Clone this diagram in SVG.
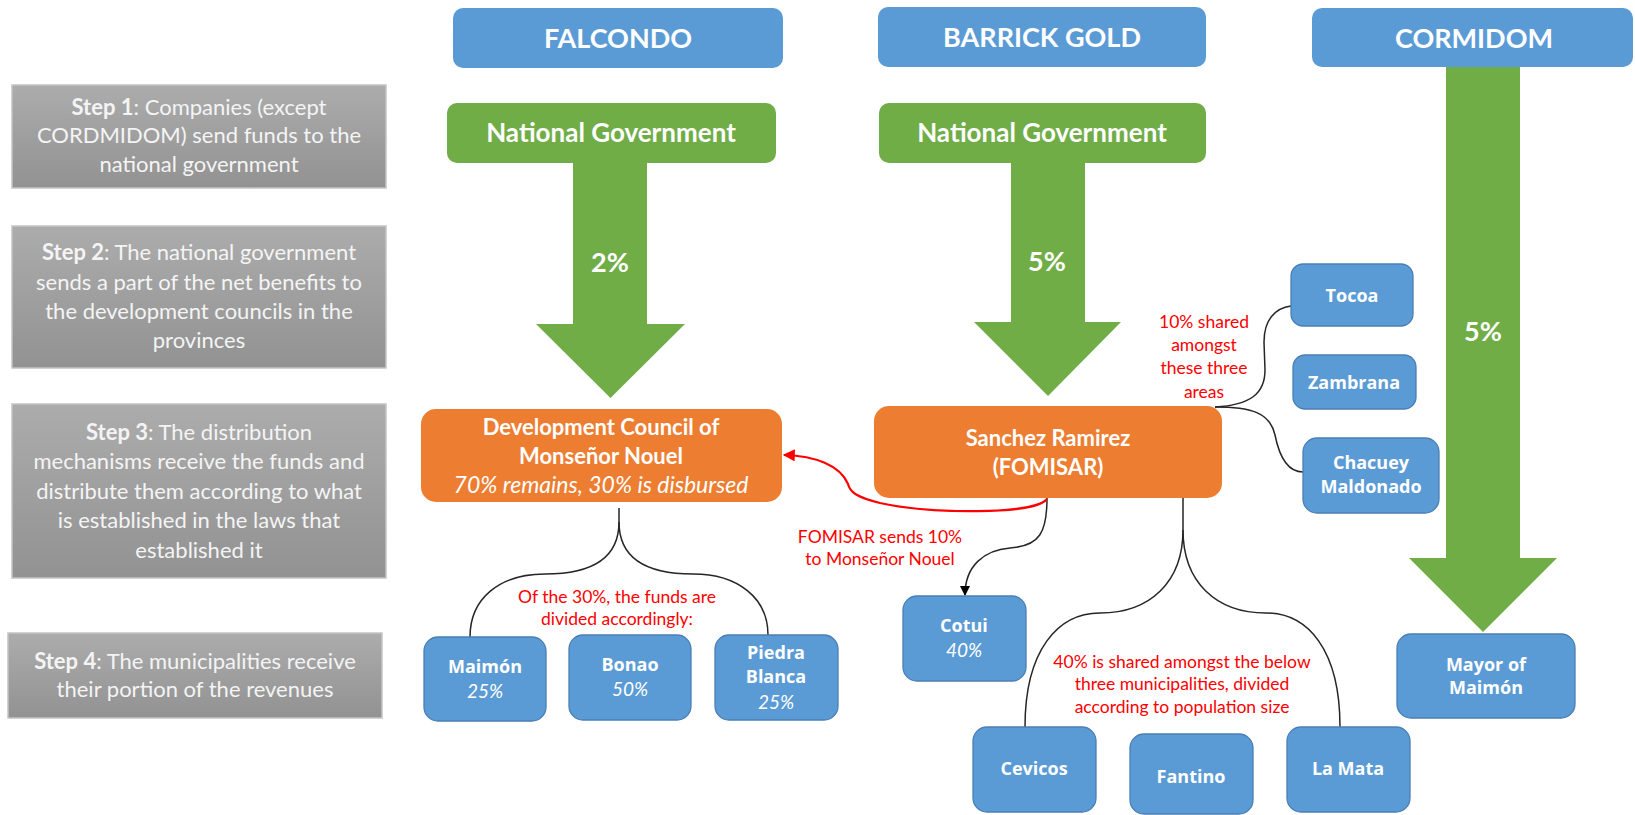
<svg xmlns="http://www.w3.org/2000/svg" width="1635" height="815" viewBox="0 0 1635 815">
  <style>
    text { font-family: Lato, "Open Sans", "Liberation Sans", sans-serif; text-anchor: middle; }
    .step { fill: url(#stepGrad); stroke: #c4c4c4; stroke-width: 1.5; }
    .steptxt { font-size: 22px; fill: #f4f4f4; }
    .steptxt tspan.b { font-weight: 700; }
    .co { fill: #5b9bd5; }
    .cotxt { font-size: 27px; font-weight: 700; fill: #ffffff; }
    .ng { fill: #70ad47; }
    .ngtxt { font-size: 26px; font-weight: 700; fill: #ffffff; }
    .arrow { fill: #70ad47; }
    .pct { font-size: 27px; font-weight: 700; fill: #ffffff; }
    .mech { fill: #ed7d31; }
    .mechtxt { font-size: 22px; font-weight: 700; fill: #ffffff; }
    .mechit { font-size: 23px; font-style: italic; fill: #ffffff; }
    .node { fill: #5b9bd5; stroke: #4a7fb5; stroke-width: 1.3; }
    .nm { font-family: "Open Sans", Lato, sans-serif; font-size: 18px; font-weight: 700; fill: #ffffff; }
    .it { font-size: 19px; font-style: italic; fill: #ffffff; }
    .note { font-size: 17.5px; fill: #ff0000; }
    .link { fill: none; stroke: #262626; stroke-width: 1.5; }
    .redlink { fill: none; stroke: #ff0000; stroke-width: 2.2; }
  </style>
  <defs>
    <linearGradient id="stepGrad" x1="0" y1="0" x2="0" y2="1">
      <stop offset="0" stop-color="#acacac"/>
      <stop offset="1" stop-color="#929292"/>
    </linearGradient>
    <marker id="headBlack" viewBox="0 0 10 10" refX="9" refY="5" markerWidth="10" markerHeight="10" markerUnits="userSpaceOnUse" orient="auto">
      <path d="M0,0 L10,5 L0,10 z" fill="#000000"/>
    </marker>
    <marker id="headRed" viewBox="0 0 10 10" refX="9" refY="5" markerWidth="12" markerHeight="12" markerUnits="userSpaceOnUse" orient="auto">
      <path d="M0,0 L10,5 L0,10 z" fill="#ff0000"/>
    </marker>
  </defs>

  <rect width="1635" height="815" fill="#ffffff"/>

  <!-- step descriptions -->
  <g id="step1">
    <rect class="step" x="12" y="85" width="374" height="103"/>
    <text class="steptxt"><tspan x="199" y="115"><tspan class="b">Step 1</tspan>: Companies (except</tspan><tspan x="199" y="143">CORDMIDOM) send funds to the</tspan><tspan x="199" y="172">national government</tspan></text>
  </g>
  <g id="step2">
    <rect class="step" x="12" y="226" width="374" height="142"/>
    <text class="steptxt"><tspan x="199" y="260"><tspan class="b">Step 2</tspan>: The national government</tspan><tspan x="199" y="290">sends a part of the net benefits to</tspan><tspan x="199" y="319">the development councils in the</tspan><tspan x="199" y="348">provinces</tspan></text>
  </g>
  <g id="step3">
    <rect class="step" x="12" y="404" width="374" height="174"/>
    <text class="steptxt"><tspan x="199" y="440"><tspan class="b">Step 3</tspan>: The distribution</tspan><tspan x="199" y="469">mechanisms receive the funds and</tspan><tspan x="199" y="499">distribute them according to what</tspan><tspan x="199" y="528">is established in the laws that</tspan><tspan x="199" y="558">established it</tspan></text>
  </g>
  <g id="step4">
    <rect class="step" x="8" y="633" width="374" height="85"/>
    <text class="steptxt"><tspan x="195" y="669"><tspan class="b">Step 4</tspan>: The municipalities receive</tspan><tspan x="195" y="697">their portion of the revenues</tspan></text>
  </g>

  <!-- companies -->
  <g id="falcondo">
    <rect class="co" x="453" y="8" width="330" height="60" rx="10"/>
    <text class="cotxt" x="618" y="48">FALCONDO</text>
  </g>
  <g id="barrick">
    <rect class="co" x="878" y="7" width="328" height="60" rx="10"/>
    <text class="cotxt" x="1042" y="47">BARRICK GOLD</text>
  </g>
  <g id="cormidom">
    <rect class="co" x="1312" y="8" width="321" height="59" rx="10"/>
    <text class="cotxt" x="1474" y="48">CORMIDOM</text>
  </g>

  <!-- national government -->
  <g id="gov-falcondo">
    <rect class="ng" x="447" y="103" width="329" height="60" rx="10"/>
    <text class="ngtxt" x="611" y="142">National Government</text>
  </g>
  <g id="gov-barrick">
    <rect class="ng" x="879" y="103" width="327" height="60" rx="10"/>
    <text class="ngtxt" x="1042" y="142">National Government</text>
  </g>

  <!-- transfer arrows -->
  <g id="flow-2pct">
    <polygon class="arrow" points="573,163 647,163 647,324 685,324 610.5,398 536,324 573,324"/>
    <text class="pct" x="610" y="272">2%</text>
  </g>
  <g id="flow-5pct-barrick">
    <polygon class="arrow" points="1011,163 1085,163 1085,322 1121,322 1048,396 974,322 1011,322"/>
    <text class="pct" x="1047" y="271">5%</text>
  </g>
  <g id="flow-5pct-cormidom">
    <polygon class="arrow" points="1446,67 1520,67 1520,558 1557,558 1483,632 1409,558 1446,558"/>
    <text class="pct" x="1483" y="341">5%</text>
  </g>

  <!-- distribution mechanisms -->
  <g id="council-monsenor">
    <rect class="mech" x="421" y="409" width="361" height="93" rx="15"/>
    <text class="mechtxt" x="601" y="435">Development Council of</text>
    <text class="mechtxt" x="601" y="464">Monseñor Nouel</text>
    <text class="mechit" x="601" y="493">70% remains, 30% is disbursed</text>
  </g>
  <g id="fomisar">
    <rect class="mech" x="874" y="406" width="348" height="92" rx="15"/>
    <text class="mechtxt" x="1048" y="446">Sanchez Ramirez</text>
    <text class="mechtxt" x="1048" y="475">(FOMISAR)</text>
  </g>

  <!-- connectors -->
  <g id="connectors">
    <path class="link" d="M619,508 L619,522 C619,556 596,574 545,574 C500,574 470,598 470,637"/>
    <path class="link" d="M619,522 C619,556 642,574 693,574 C738,574 768,598 768,635"/>
    <path class="link" d="M1183,498 L1183,530 C1183,582 1150,613 1100,613 C1058,613 1025,650 1025,727"/>
    <path class="link" d="M1183,530 C1183,582 1216,613 1266,613 C1308,613 1340,650 1340,727"/>
    <path class="link" marker-end="url(#headBlack)" d="M1047,498 C1047,532 1040,546 1010,548 C984,550 965,566 965,595"/>
    <path class="link" d="M1215,407 C1250,405 1265,394 1265,370 L1264,342 C1264,320 1275,308 1291,306"/>
    <path class="link" d="M1215,407 C1250,407 1270,412 1275,435 C1280,460 1290,472 1303,472"/>
    <path class="redlink" marker-end="url(#headRed)" d="M1047,499 C1035,515 930,514 880,503 C856,497 850,492 848,484 C840,465 815,456 784,455"/>
  </g>

  <!-- annotations -->
  <g id="note-fomisar">
    <text class="note"><tspan x="880" y="543">FOMISAR sends 10%</tspan><tspan x="880" y="565">to Monseñor Nouel</tspan></text>
  </g>
  <g id="note-30pct">
    <text class="note"><tspan x="617" y="603">Of the 30%, the funds are</tspan><tspan x="617" y="625">divided accordingly:</tspan></text>
  </g>
  <g id="note-10pct">
    <text class="note"><tspan x="1204" y="328">10% shared</tspan><tspan x="1204" y="351">amongst</tspan><tspan x="1204" y="374">these three</tspan><tspan x="1204" y="398">areas</tspan></text>
  </g>
  <g id="note-40pct">
    <text class="note"><tspan x="1182" y="668">40% is shared amongst the below</tspan><tspan x="1182" y="690">three municipalities, divided</tspan><tspan x="1182" y="713">according to population size</tspan></text>
  </g>

  <!-- municipalities -->
  <g id="maimon">
    <rect class="node" x="424" y="637" width="122" height="84" rx="14"/>
    <text class="nm" x="485" y="673">Maimón</text>
    <text class="it" x="485" y="698">25%</text>
  </g>
  <g id="bonao">
    <rect class="node" x="569" y="635" width="122" height="85" rx="14"/>
    <text class="nm" x="630" y="671">Bonao</text>
    <text class="it" x="630" y="696">50%</text>
  </g>
  <g id="piedra-blanca">
    <rect class="node" x="715" y="635" width="123" height="85" rx="14"/>
    <text class="nm" x="776" y="659">Piedra</text>
    <text class="nm" x="776" y="683">Blanca</text>
    <text class="it" x="776" y="709">25%</text>
  </g>
  <g id="cotui">
    <rect class="node" x="903" y="596" width="123" height="85" rx="14"/>
    <text class="nm" x="964" y="632">Cotui</text>
    <text class="it" x="964" y="657">40%</text>
  </g>
  <g id="tocoa">
    <rect class="node" x="1291" y="264" width="122" height="62" rx="12"/>
    <text class="nm" x="1352" y="302">Tocoa</text>
  </g>
  <g id="zambrana">
    <rect class="node" x="1293" y="355" width="123" height="54" rx="12"/>
    <text class="nm" x="1354" y="389">Zambrana</text>
  </g>
  <g id="chacuey-maldonado">
    <rect class="node" x="1303" y="438" width="136" height="75" rx="14"/>
    <text class="nm" x="1371" y="469">Chacuey</text>
    <text class="nm" x="1371" y="493">Maldonado</text>
  </g>
  <g id="cevicos">
    <rect class="node" x="973" y="727" width="123" height="85" rx="14"/>
    <text class="nm" x="1034" y="775">Cevicos</text>
  </g>
  <g id="fantino">
    <rect class="node" x="1130" y="734" width="123" height="80" rx="14"/>
    <text class="nm" x="1191" y="783">Fantino</text>
  </g>
  <g id="la-mata">
    <rect class="node" x="1287" y="727" width="123" height="85" rx="14"/>
    <text class="nm" x="1348" y="775">La Mata</text>
  </g>
  <g id="mayor-maimon">
    <rect class="node" x="1397" y="634" width="178" height="84" rx="14"/>
    <text class="nm" x="1486" y="671">Mayor of</text>
    <text class="nm" x="1486" y="694">Maimón</text>
  </g>
</svg>
